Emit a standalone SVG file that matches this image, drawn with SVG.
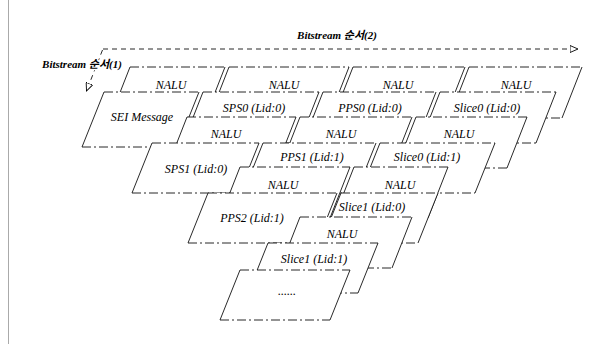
<svg xmlns="http://www.w3.org/2000/svg" width="605" height="344" viewBox="0 0 605 344">
<defs>
<marker id="ah" markerWidth="10" markerHeight="8" refX="8" refY="4" orient="auto" markerUnits="userSpaceOnUse">
<path d="M0,0.5 L8,4 L0,7.5 Z" fill="#fff" stroke="#000" stroke-width="0.9"/>
</marker>
<style>
.pg{fill:#fff;stroke:none}
.h{fill:none;stroke:#111;stroke-width:0.9;stroke-dasharray:9 3 2 3}
.s{fill:none;stroke:#111;stroke-width:0.9}
.c{fill:none;stroke:#111;stroke-width:0.9;stroke-dasharray:5 4}
</style>
</defs>
<rect width="605" height="344" fill="#fff"/>
<line x1="8.5" y1="0" x2="8.5" y2="344" stroke="#aaa" stroke-width="1"/>

<g id="connectors">
<path class="c" d="M103,49 H578" marker-end="url(#ah)"/>
<path class="c" d="M102.5,50 L86.5,91" marker-end="url(#ah)"/>
</g>
<g font-family="Liberation Serif, Noto Sans CJK KR, serif" font-style="italic" font-weight="bold" font-size="11" text-anchor="middle" fill="#000" stroke="#fff" stroke-width="3" paint-order="stroke">
<text x="337" y="39">Bitstream 순서(2)</text>
<text x="82" y="68">Bitstream 순서(1)</text>
</g>

<g font-family="Liberation Serif, serif" font-style="italic" font-size="12" text-anchor="middle" fill="#000">
<g id="nalu-0-0"><polygon class="pg" points="130,67 225,67 205,118 110,118"/><path class="h" d="M130,67H225M110,118H205"/><path class="s" d="M130,67L110,118M225,67L205,118"/><text x="171" y="89">NALU</text></g>
<g id="nalu-0-1"><polygon class="pg" points="229,67 349,67 329,118 209,118"/><path class="h" d="M229,67H349M209,118H329"/><path class="s" d="M229,67L209,118M349,67L329,118"/><text x="284" y="89">NALU</text></g>
<g id="nalu-0-2"><polygon class="pg" points="353,67 465,67 445,118 333,118"/><path class="h" d="M353,67H465M333,118H445"/><path class="s" d="M353,67L333,118M465,67L445,118"/><text x="398" y="89">NALU</text></g>
<g id="nalu-0-3"><polygon class="pg" points="469,67 582,67 562,118 449,118"/><path class="h" d="M469,67H582M449,118H562"/><path class="s" d="M469,67L449,118M582,67L562,118"/><text x="516" y="89">NALU</text></g>

<g id="sei"><polygon class="pg" points="104,92 199,92 177,147 82,147"/><path class="h" d="M104,92H199M82,147H177"/><path class="s" d="M104,92L82,147M199,92L177,147"/><text x="142" y="121">SEI Message</text></g>
<g id="sps0"><polygon class="pg" points="203,92 319,92 299,143 183,143"/><path class="h" d="M203,92H319M183,143H299"/><path class="s" d="M203,92L183,143M319,92L299,143"/><text x="254" y="112">SPS0 (Lid:0)</text></g>
<g id="pps0"><polygon class="pg" points="323,92 436,92 416,143 303,143"/><path class="h" d="M323,92H436M303,143H416"/><path class="s" d="M323,92L303,143M436,92L416,143"/><text x="370" y="112">PPS0 (Lid:0)</text></g>
<g id="slice0-lid0"><polygon class="pg" points="440,92 556,92 536,143 420,143"/><path class="h" d="M440,92H556M420,143H536"/><path class="s" d="M440,92L420,143M556,92L536,143"/><text x="487" y="112">Slice0 (Lid:0)</text></g>

<g id="nalu-1-0"><polygon class="pg" points="187,117 296,117 276,168 167,168"/><path class="h" d="M187,117H296M167,168H276"/><path class="s" d="M187,117L167,168M296,117L276,168"/><text x="226" y="138">NALU</text></g>
<g id="nalu-1-1"><polygon class="pg" points="300,117 412,117 392,168 280,168"/><path class="h" d="M300,117H412M280,168H392"/><path class="s" d="M300,117L280,168M412,117L392,168"/><text x="341" y="138">NALU</text></g>
<g id="nalu-1-2"><polygon class="pg" points="416,117 527,117 507,168 396,168"/><path class="h" d="M416,117H527M396,168H507"/><path class="s" d="M416,117L396,168M527,117L507,168"/><text x="459" y="138">NALU</text></g>

<g id="sps1"><polygon class="pg" points="152,143 259,143 239,193 132,193"/><path class="h" d="M152,143H259M132,193H239"/><path class="s" d="M152,143L132,193M259,143L239,193"/><text x="196" y="173">SPS1 (Lid:0)</text></g>
<g id="pps1"><polygon class="pg" points="263,143 376,143 356,193 243,193"/><path class="h" d="M263,143H376M243,193H356"/><path class="s" d="M263,143L243,193M376,143L356,193"/><text x="312" y="161">PPS1 (Lid:1)</text></g>
<g id="slice0-lid1"><polygon class="pg" points="380,143 495,143 475,193 360,193"/><path class="h" d="M380,143H495M360,193H475"/><path class="s" d="M380,143L360,193M495,143L475,193"/><text x="427" y="161">Slice0 (Lid:1)</text></g>

<g id="nalu-2-0"><polygon class="pg" points="240,167 350,167 330,218 220,218"/><path class="h" d="M240,167H350M220,218H330"/><path class="s" d="M240,167L220,218M350,167L330,218"/><text x="283" y="189">NALU</text></g>
<g id="nalu-2-1"><polygon class="pg" points="354,167 448,167 428,218 334,218"/><path class="h" d="M354,167H448M334,218H428"/><path class="s" d="M354,167L334,218M448,167L428,218"/><text x="400" y="189">NALU</text></g>

<g id="pps2"><polygon class="pg" points="208,193 337,193 317,243 188,243"/><path class="h" d="M208,193H337M188,243H317"/><path class="s" d="M208,193L188,243M337,193L317,243"/><text x="252" y="222">PPS2 (Lid:1)</text></g>
<g id="slice1-lid0"><polygon class="pg" points="341,193 438,193 418,243 321,243"/><path class="h" d="M341,193H438M321,243H418"/><path class="s" d="M341,193L321,243M438,193L418,243"/><text x="372" y="211">Slice1 (Lid:0)</text></g>

<g id="nalu-3-0"><polygon class="pg" points="300,217 412,217 392,268 280,268"/><path class="h" d="M300,217H412M280,268H392"/><path class="s" d="M300,217L280,268M412,217L392,268"/><text x="342" y="238">NALU</text></g>

<g id="slice1-lid1"><polygon class="pg" points="268,243 378,243 358,293 248,293"/><path class="h" d="M268,243H378M248,293H358"/><path class="s" d="M268,243L248,293M378,243L358,293"/><text x="314" y="263">Slice1 (Lid:1)</text></g>

<g id="more"><polygon class="pg" points="240,270 350,270 330,320 220,320"/><path class="h" d="M240,270H350M220,320H330"/><path class="s" d="M240,270L220,320M350,270L330,320"/><text x="287" y="295">......</text></g>
</g>
</svg>
